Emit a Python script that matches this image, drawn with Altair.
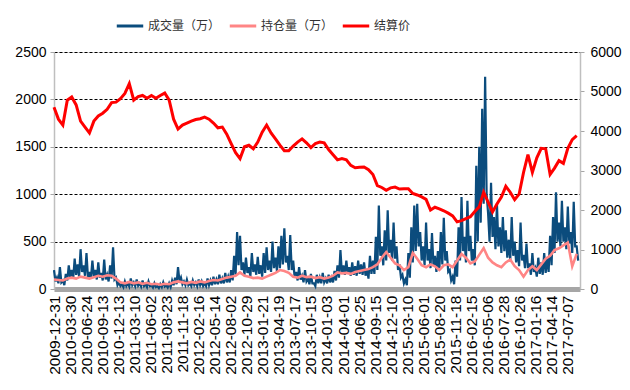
import altair as alt
import pandas as pd

tick_labels = ["2009-12-31", "2010-03-30", "2010-06-24", "2010-09-13", "2010-12-13",
               "2011-03-10", "2011-06-02", "2011-08-23", "2011-11-18", "2012-02-16",
               "2012-05-14", "2012-08-02", "2012-10-29", "2013-01-21", "2013-04-19",
               "2013-07-17", "2013-10-15", "2014-01-03", "2014-04-01", "2014-06-25",
               "2014-09-15", "2014-12-10", "2015-03-10", "2015-06-01", "2015-08-20",
               "2015-11-18", "2016-02-15", "2016-05-06", "2016-07-28", "2016-10-26",
               "2017-01-16", "2017-04-14", "2017-07-07"]
tick_step = 87      # index units between labels
price_step = 24     # sampling of price / open interest
vol_step = 16       # sampling of volume (peak, then trough half a step later)

price = [4600, 4300, 4150, 4780, 4860, 4660, 4250, 4100, 3950, 4250,
         4380, 4450, 4550, 4720, 4730, 4820, 4950, 5200, 4780, 4870,
         4900, 4830, 4900, 4830, 4900, 4960, 4780, 4300, 4050, 4150,
         4200, 4250, 4290, 4310, 4350, 4300, 4200, 4080, 4100, 3920,
         3680, 3450, 3300, 3600, 3640, 3550, 3720, 3970, 4150, 3950,
         3800, 3640, 3500, 3500, 3620, 3720, 3800, 3700, 3580, 3680,
         3720, 3700, 3530, 3400, 3270, 3300, 3270, 3130, 3070, 3080,
         3090, 3020, 2900, 2620, 2570, 2500, 2560, 2580, 2530, 2540,
         2540, 2420, 2380, 2330, 2270, 2000, 2070, 2030, 1980, 1920,
         1850, 1700, 1730, 1780, 1830, 1960, 2080, 2450, 2200, 1950,
         2150, 2330, 2600, 2450, 2260, 2400, 2950, 3400, 2950, 3320,
         3560, 3550, 2900, 3060, 3250, 3180, 3560, 3780, 3880]

open_interest = [100, 95, 90, 110, 120, 110, 130, 120, 110, 125,
                 140, 130, 145, 140, 110, 70, 60, 75, 60, 70,
                 55, 65, 50, 55, 45, 55, 50, 70, 80, 70,
                 60, 75, 65, 80, 70, 85, 95, 90, 105, 120,
                 130, 140, 175, 140, 130, 115, 120, 110, 130, 150,
                 170, 200, 190, 170, 130, 120, 140, 125, 130, 115,
                 125, 110, 120, 140, 175, 165, 170, 160, 180, 190,
                 200, 210, 230, 260, 330, 390, 330, 270, 250, 200,
                 230, 380, 320, 250, 230, 260, 240, 200, 250, 260,
                 230, 300, 370, 330, 270, 290, 360, 430, 330, 280,
                 250, 230, 280, 310, 240, 200, 130, 200, 240, 200,
                 260, 320, 350, 410, 430, 460, 490, 240, 370]

volume_high = [200, 120, 230, 90, 160, 250, 200, 320, 260, 420,
               250, 380, 180, 300, 200, 280, 170, 310, 150, 250,
               440, 120, 70, 50, 80, 60, 110, 70, 100, 60,
               90, 50, 80, 40, 60, 30, 50, 70, 40, 60,
               90, 120, 230, 120, 80, 100, 60, 90, 70, 100,
               80, 60, 110, 90, 130, 100, 150, 110, 170, 130,
               200, 350, 600, 560, 280, 330, 230, 380, 260, 340,
               250, 380, 440, 300, 500, 330, 450, 560, 640, 350,
               570, 300, 180, 230, 140, 200, 110, 160, 60, 150,
               120, 170, 110, 150, 120, 190, 250, 410, 250, 300,
               230, 280, 240, 300, 260, 280, 210, 350, 300, 550,
               880, 450, 620, 830, 520, 700, 450, 260, 150, 100,
               380, 650, 880, 900, 600, 450, 700, 420, 590, 350,
               400, 600, 750, 400, 200, 130, 300, 650, 970, 550,
               930, 560, 420, 1300, 1500, 1900, 2240, 800, 1120, 760,
               900, 650, 760, 620, 520, 760, 500, 410, 700, 360,
               480, 270, 380, 220, 330, 280, 380, 330, 560, 760,
               1020, 700, 930, 650, 870, 600, 920, 450]

volume_low = [80, 60, 70, 40, 90, 120, 110, 150, 130, 180,
              140, 120, 110, 130, 100, 120, 90, 100, 80, 110,
              100, 40, 30, 20, 30, 25, 40, 30, 35, 25,
              30, 20, 30, 15, 20, 10, 20, 25, 15, 20,
              40, 50, 80, 50, 40, 40, 30, 40, 30, 40,
              30, 30, 40, 40, 50, 50, 60, 60, 70, 70,
              90, 150, 250, 200, 150, 170, 130, 180, 150, 160,
              130, 170, 200, 180, 220, 190, 220, 260, 280, 200,
              200, 120, 90, 100, 70, 80, 50, 60, 30, 60,
              60, 70, 60, 70, 70, 90, 120, 160, 150, 160,
              140, 150, 140, 160, 150, 140, 110, 160, 160, 200,
              350, 250, 300, 380, 300, 320, 200, 120, 60, 40,
              120, 280, 400, 450, 300, 250, 300, 220, 250, 180,
              200, 260, 300, 180, 90, 50, 130, 300, 400, 280,
              400, 300, 250, 500, 700, 900, 1000, 500, 550, 420,
              450, 380, 400, 330, 300, 350, 280, 240, 300, 220,
              220, 150, 180, 130, 160, 150, 170, 180, 250, 380,
              500, 450, 500, 420, 480, 380, 450, 300]

names = ["成交量（万）", "持仓量（万）", "结算价"]
colors = ["#0B4C7D", "#FF8585", "#FF0000"]

rows = []
for j, (hi, lo) in enumerate(zip(volume_high, volume_low)):
    rows.append({"x": j * vol_step, "value": hi, "series": names[0]})
    rows.append({"x": j * vol_step + vol_step // 2, "value": lo, "series": names[0]})
for i, v in enumerate(open_interest):
    rows.append({"x": i * price_step, "value": v, "series": names[1]})
for i, v in enumerate(price):
    rows.append({"x": i * price_step, "value": v, "series": names[2]})
df = pd.DataFrame(rows)

tick_vals = [k * tick_step for k in range(len(tick_labels))]
label_expr = "[" + ",".join("'%s'" % t for t in tick_labels) + "][round(datum.value/%d)]" % tick_step

FONT = "Liberation Sans"

x_enc = alt.X("x:Q",
              scale=alt.Scale(domain=[0, 2850], nice=False, zero=False),
              axis=alt.Axis(values=tick_vals, labelExpr=label_expr, labelAngle=270,
                            labelFont=FONT, labelFontSize=15.5, labelColor="#000000",
                            labelPadding=6, ticks=False, grid=False, title=None,
                            domainColor="#A6A6A6", domainWidth=5, labelFlush=False,
                            labelOverlap=False, labelBound=False))

color_enc = alt.Color("series:N",
                      scale=alt.Scale(domain=names, range=colors),
                      legend=alt.Legend(title=None, orient="none", direction="horizontal",
                                        legendX=61, legendY=-41, columns=3,
                                        symbolType="stroke", symbolSize=700,
                                        symbolStrokeWidth=3, labelFont="Noto Sans CJK SC",
                                        labelFontSize=12, labelColor="#333333",
                                        labelOffset=3, columnPadding=2, padding=0))

left_axis = alt.Axis(values=[0, 500, 1000, 1500, 2000, 2500], grid=True, format="d",
                     gridColor="#000000", gridDash=[3, 2], gridWidth=1,
                     labelFont=FONT, labelFontSize=14, labelColor="#000000",
                     domainColor="#BFBFBF", domainWidth=1.5, tickColor="#A6A6A6",
                     tickSize=4, labelPadding=4, title=None)

right_axis = alt.Axis(values=[0, 1000, 2000, 3000, 4000, 5000, 6000], grid=False,
                      orient="right", format="d", labelFont=FONT, labelFontSize=14,
                      labelColor="#000000", domainColor="#BFBFBF", domainWidth=1.5,
                      tickColor="#A6A6A6", tickSize=4, labelPadding=6, title=None)

base = alt.Chart(df)

vol = base.transform_filter(alt.datum.series == names[0]).mark_line(strokeWidth=2.2).encode(
    x=x_enc,
    y=alt.Y("value:Q", scale=alt.Scale(domain=[0, 2500], nice=False), axis=left_axis),
    color=color_enc)

oi = base.transform_filter(alt.datum.series == names[1]).mark_line(strokeWidth=2.6).encode(
    x=x_enc,
    y=alt.Y("value:Q", scale=alt.Scale(domain=[0, 2500], nice=False), axis=left_axis),
    color=color_enc)

pr = base.transform_filter(alt.datum.series == names[2]).mark_line(strokeWidth=3).encode(
    x=x_enc,
    y=alt.Y("value:Q", scale=alt.Scale(domain=[0, 6000], nice=False), axis=right_axis),
    color=color_enc)

chart = alt.layer(alt.layer(vol, oi), pr).resolve_scale(y="independent").properties(
    width=526, height=237,
    autosize=alt.AutoSizeParams(type="none"),
    padding={"left": 46, "top": 44, "right": 42, "bottom": 90},
).configure_view(stroke=None).configure(background="#FFFFFF")

chart.save("out.html", embed_options={"renderer": "svg", "actions": False})
